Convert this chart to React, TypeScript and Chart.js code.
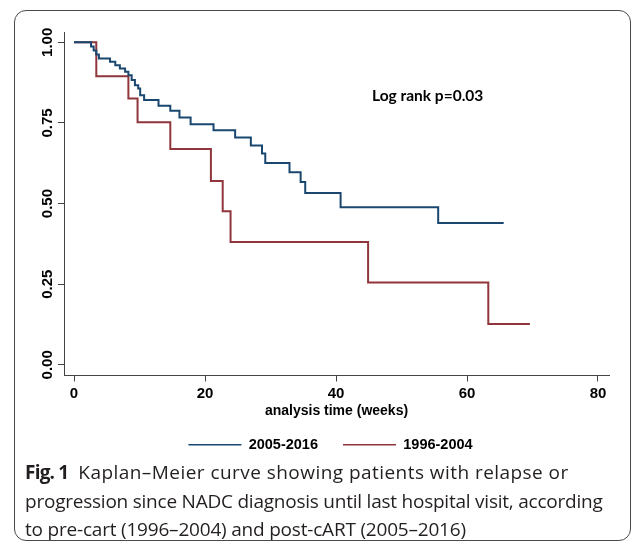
import React, { useEffect, useRef } from 'react';
import { Chart, registerables } from 'chart.js';

Chart.register(...registerables);

// ---- data ----
const seriesLabels = ['2005-2016', '1996-2004'];

const blueTimes = [0, 2.6, 3.0, 3.4, 3.8, 5.5, 6.3, 7.0, 7.8, 8.3, 8.8, 9.3, 9.8, 10.1, 10.7, 12.9, 14.7, 16.1, 17.8, 21.3, 24.6, 27.0, 28.7, 29.2, 32.9, 34.6, 35.3, 40.7, 55.6, 65.6];
const blueSurv = [1, 0.987, 0.975, 0.962, 0.95, 0.94, 0.929, 0.919, 0.909, 0.898, 0.883, 0.867, 0.857, 0.836, 0.821, 0.803, 0.788, 0.767, 0.746, 0.727, 0.705, 0.68, 0.655, 0.626, 0.597, 0.567, 0.533, 0.489, 0.44, 0.44];

const redTimes = [0, 3.4, 8.3, 9.7, 14.7, 20.9, 22.7, 23.9, 44.9, 63.25, 69.6];
const redSurv = [1, 0.895, 0.826, 0.752, 0.669, 0.57, 0.476, 0.381, 0.255, 0.127, 0.127];

const xTicks = [0, 20, 40, 60, 80];
const yTicks = [0, 0.25, 0.5, 0.75, 1];
const xTitle = 'analysis time (weeks)';
const annotationText = 'Log rank p=0.03';
const annotationAt = [54, 0.833];
const captionBold = 'Fig. 1';
const captionLines = [
  'Kaplan\u2013Meier curve showing patients with relapse or',
  'progression since NADC diagnosis until last hospital visit, according',
  'to pre-cart (1996\u20132004) and post-cART (2005\u20132016)',
];

// ---- styles ----
const NAVY = '#1a476f';
const MAROON = '#90353b';
const AXIS = '#444444';
const FONT = 'Liberation Sans, Arial, sans-serif';

const annotationPlugin = {
  id: 'logrankText',
  afterLayout(chart: any) {
    // centre the legend row under the plot like the reference
    if (chart.legend) {
      chart.legend.left += 18;
      chart.legend.right += 18;
    }
  },
  afterDatasetsDraw(chart: any) {
    const { ctx, scales } = chart;
    ctx.save();
    ctx.font = 'bold 15.5px Lato, sans-serif';
    ctx.fillStyle = '#000';
    ctx.textAlign = 'center';
    ctx.textBaseline = 'middle';
    ctx.fillText(annotationText, scales.x.getPixelForValue(annotationAt[0]), scales.y.getPixelForValue(annotationAt[1]));
    ctx.restore();
  },
};

export default function App() {
  const ref = useRef<HTMLCanvasElement | null>(null);

  useEffect(() => {
    if (!ref.current) return;
    const mk = (ts: number[], ss: number[]) => ts.map((t, i) => ({ x: t, y: ss[i] }));
    const chart = new Chart(ref.current, {
      type: 'line',
      data: {
        datasets: [
          {
            label: seriesLabels[0],
            data: mk(blueTimes, blueSurv),
            borderColor: NAVY,
            backgroundColor: NAVY,
            borderWidth: 2,
            stepped: 'before',
            pointRadius: 0,
            fill: false,
          },
          {
            label: seriesLabels[1],
            data: mk(redTimes, redSurv),
            borderColor: MAROON,
            backgroundColor: MAROON,
            borderWidth: 2,
            stepped: 'before',
            pointRadius: 0,
            fill: false,
          },
        ],
      },
      options: {
        animation: false,
        responsive: false,
        devicePixelRatio: 1,
        layout: { padding: { left: 16, right: 24, top: 32, bottom: 82 } },
        scales: {
          x: {
            type: 'linear',
            min: -1.53,
            max: 81.68,
            afterBuildTicks: (s: any) => {
              s.ticks = xTicks.map((v) => ({ value: v }));
            },
            afterFit: (s: any) => {
              s.height = 37;
            },
            grid: { drawOnChartArea: false, drawTicks: true, tickLength: 6, color: AXIS },
            border: { color: AXIS, width: 1 },
            ticks: { font: { family: FONT, size: 15, weight: 'bold' }, color: '#000', padding: 3, maxRotation: 0 },
            title: {
              display: true,
              text: xTitle,
              font: { family: FONT, size: 14, weight: 'bold' },
              color: '#000',
              padding: { top: 0, bottom: -7 },
            },
          },
          y: {
            type: 'linear',
            min: -0.033,
            max: 1.032,
            afterBuildTicks: (s: any) => {
              s.ticks = yTicks.map((v) => ({ value: v }));
            },
            afterFit: (s: any) => {
              s.width = 48;
            },
            grid: { drawOnChartArea: false, drawTicks: true, tickLength: 6, color: AXIS },
            border: { color: AXIS, width: 1 },
            ticks: {
              font: { family: FONT, size: 15, weight: 'bold' },
              color: '#000',
              minRotation: 90,
              maxRotation: 90,
              crossAlign: 'center',
              padding: -4,
              callback: (v: any) => Number(v).toFixed(2),
            },
          },
        },
        plugins: {
          legend: {
            position: 'bottom',
            labels: {
              boxWidth: 53,
              boxHeight: 1.5,
              padding: 25,
              color: '#000',
              font: { family: FONT, size: 14.5, weight: 'bold' },
              generateLabels: (c: any) =>
                Chart.defaults.plugins.legend.labels.generateLabels(c).map((it: any) => ({ ...it, lineWidth: 0 })),
            },
          },
          tooltip: { enabled: false },
        },
      },
      plugins: [annotationPlugin],
    } as any);
    return () => chart.destroy();
  }, []);

  return (
    <div style={{ position: 'absolute', left: 0, top: 0, width: 633, height: 544, overflow: 'hidden', background: '#fff' }}>
      <div
        style={{
          position: 'absolute',
          left: 14,
          top: 10,
          width: 617,
          height: 531,
          border: '1px solid #4a4a4a',
          borderRadius: 12,
          boxSizing: 'border-box',
        }}
      />
      <canvas ref={ref} width={633} height={544} style={{ position: 'absolute', left: 0, top: 0, width: 633, height: 544 }} />
      <div
        style={{
          position: 'absolute',
          left: 25,
          top: 458,
          fontFamily: 'Open Sans, sans-serif',
          fontSize: 19,
          lineHeight: '28.5px',
          color: '#231f20',
          whiteSpace: 'nowrap',
        }}
      >
        <div>
          <b style={{ letterSpacing: '-0.8px' }}>{captionBold}</b>
          <span style={{ letterSpacing: '0.45px' }}>{'\u2002' + captionLines[0]}</span>
        </div>
        <div style={{ letterSpacing: '-0.23px' }}>{captionLines[1]}</div>
        <div style={{ letterSpacing: '-0.2px' }}>{captionLines[2]}</div>
      </div>
    </div>
  );
}
